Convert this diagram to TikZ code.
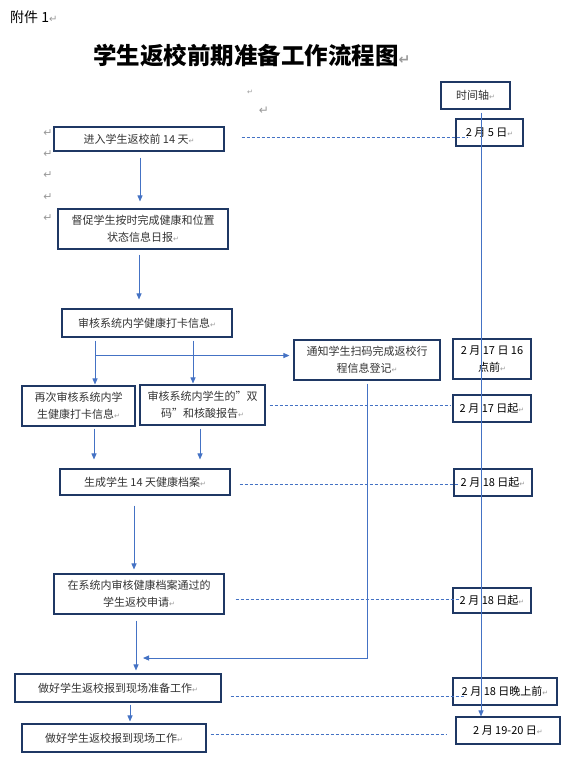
\documentclass[tikz,border=0pt]{standalone}
\usepackage{fontspec}
\setmainfont{Noto Sans CJK SC}
\newfontfamily\dejavu{DejaVu Sans}
\usetikzlibrary{arrows.meta,calc}
\definecolor{navy}{HTML}{1F3864}
\definecolor{ablue}{HTML}{4472C4}
\definecolor{txt}{HTML}{333333}
\newcommand\retmark[1][7]{{\dejavu\fontsize{#1}{#1}\selectfont\color{black!40}↵}}
\begin{document}
\begin{tikzpicture}[x=1pt,y=-1pt,
  box/.style={draw=navy, line width=1.1pt, inner sep=0pt, align=center, text=txt,
    font=\fontsize{11}{16.5}\selectfont},
  dbox/.style={box, text=black},
  arr/.style={draw=ablue, line width=0.9pt, -{Triangle[length=6pt,width=5pt]}},
  dline/.style={draw=ablue, line width=0.8pt, dash pattern=on 3pt off 2pt},
  pmk/.style={inner sep=0pt, text=black!40}]
\useasboundingbox (0,0) rectangle (563,759);
% header
\node[anchor=west, inner sep=0pt, font=\fontsize{14}{14}\selectfont] (fj) at (10,17) {附件 1\retmark[10]};
\node[anchor=west, inner sep=0pt, font=\fontsize{23.5}{24}\selectfont\bfseries] (title) at (93,56) {学生返校前期准备工作流程图\retmark[14]};
% paragraph marks
\node[pmk] (p1) at (250,92) {\retmark[7]};
\node[pmk] (p2) at (264,111) {\retmark[12]};
\foreach \yy [count=\i] in {133,154,175,197,218} \node[pmk] (pl\i) at (48,\yy) {\retmark[11]};
% main flow boxes
\node[box, minimum width=170pt, minimum height=24pt] (A) at (139,139) {进入学生返校前 14 天\retmark};
\node[box, minimum width=170pt, minimum height=40pt] (B) at (143,229) {督促学生按时完成健康和位置\\状态信息日报\retmark};
\node[box, minimum width=170pt, minimum height=28pt] (C) at (147,323) {审核系统内学健康打卡信息\retmark};
\node[box, minimum width=146pt, minimum height=40pt] (D) at (367,360) {通知学生扫码完成返校行\\程信息登记\retmark};
\node[box, minimum width=113pt, minimum height=40pt] (E) at (78.5,406) {再次审核系统内学\\生健康打卡信息\retmark};
\node[box, minimum width=125pt, minimum height=40pt] (F) at (202.5,405) {审核系统内学生的"双\\码"和核酸报告\retmark};
\node[box, minimum width=170pt, minimum height=26pt] (G) at (145,482) {生成学生 14 天健康档案\retmark};
\node[box, minimum width=170pt, minimum height=40pt] (H) at (139,594) {在系统内审核健康档案通过的\\学生返校申请\retmark};
\node[box, minimum width=206pt, minimum height=28pt] (I) at (118,688) {做好学生返校报到现场准备工作\retmark};
\node[box, minimum width=184pt, minimum height=28pt] (J) at (114,738) {做好学生返校报到现场工作\retmark};
% timeline boxes
\node[box, minimum width=69pt, minimum height=27pt] (T0) at (475.5,95.5) {时间轴\retmark};
\node[dbox, minimum width=67pt, minimum height=27pt] (T1) at (489.5,132.5) {2 月 5 日\retmark};
\node[dbox, minimum width=78pt, minimum height=40pt] (T2) at (492,359) {2 月 17 日 16\\点前\retmark};
\node[dbox, minimum width=78pt, minimum height=27pt] (T3) at (492,408.5) {2 月 17 日起\retmark};
\node[dbox, minimum width=78pt, minimum height=27pt] (T4) at (493,482.5) {2 月 18 日起\retmark};
\node[dbox, minimum width=78pt, minimum height=25pt] (T5) at (492,600.5) {2 月 18 日起\retmark};
\node[dbox, minimum width=104pt, minimum height=27pt] (T6) at (505,691.5) {2 月 18 日晚上前\retmark};
\node[dbox, minimum width=104pt, minimum height=27pt] (T7) at (508,730.5) {2 月 19-20 日\retmark};
% timeline axis
\coordinate (ax) at (481,0);
\draw[arr, shorten <=3pt] (T0.south -| ax) -- (T7.north -| ax);
% flow arrows
\draw[arr] ($(A.south)+(1,6)$) -- ($(A.south |- B.north)+(1,-7)$);
\draw[arr] ($(B.south)+(-4,5)$) -- ($(B.south |- C.north)+(-4,-9)$);
\draw[arr] ($(C.south)+(-52,3)$) -- ($(C.south |- E.north)+(-52,-1)$);
\draw[arr] ($(C.south)+(46,3)$) -- ($(C.south |- F.north)+(46,-1)$);
\coordinate (cb) at ($(C.south)+(-52,18)$);
\draw[arr, shorten >=4pt] (cb) -- (cb -| D.west);
\draw[arr] ($(E.south)+(15.5,2)$) -- ($(E.south |- G.north)+(15.5,-9)$);
\draw[arr] ($(F.south)+(-2.5,3)$) -- ($(F.south |- G.north)+(-2.5,-9)$);
\draw[arr] ($(G.south)+(-11,10)$) -- ($(G.south |- H.north)+(-11,-4)$);
\draw[arr] ($(H.south)+(-3,6)$) -- ($(H.south |- I.north)+(-3,-3)$);
\draw[arr] ($(I.south)+(12,2)$) -- ($(I.south |- J.north)+(12,-2)$);
\coordinate (jn) at (143,658);
\draw[arr, shorten <=3pt] (D.south) -- (D.south |- jn) -- (jn);
% dashed time links
\draw[dline, shorten >=-12pt] ($(A.east)+(17,-2)$) coordinate (d1) -- (d1 -| T1.west);
\draw[dline, shorten >=1pt] ($(F.east)+(4,0)$) coordinate (d2) -- (d2 -| T3.west);
\draw[dline, shorten >=-6pt] ($(G.east)+(9,2)$) coordinate (d3) -- (d3 -| T4.west);
\draw[dline, shorten >=-7pt] ($(H.east)+(11,5)$) coordinate (d4) -- (d4 -| T5.west);
\draw[dline, shorten >=-13pt] ($(I.east)+(9,8)$) coordinate (d5) -- (d5 -| T6.west);
\draw[dline, shorten >=9pt] ($(J.east)+(4,-4)$) coordinate (d6) -- (d6 -| T7.west);
\end{tikzpicture}
\end{document}
